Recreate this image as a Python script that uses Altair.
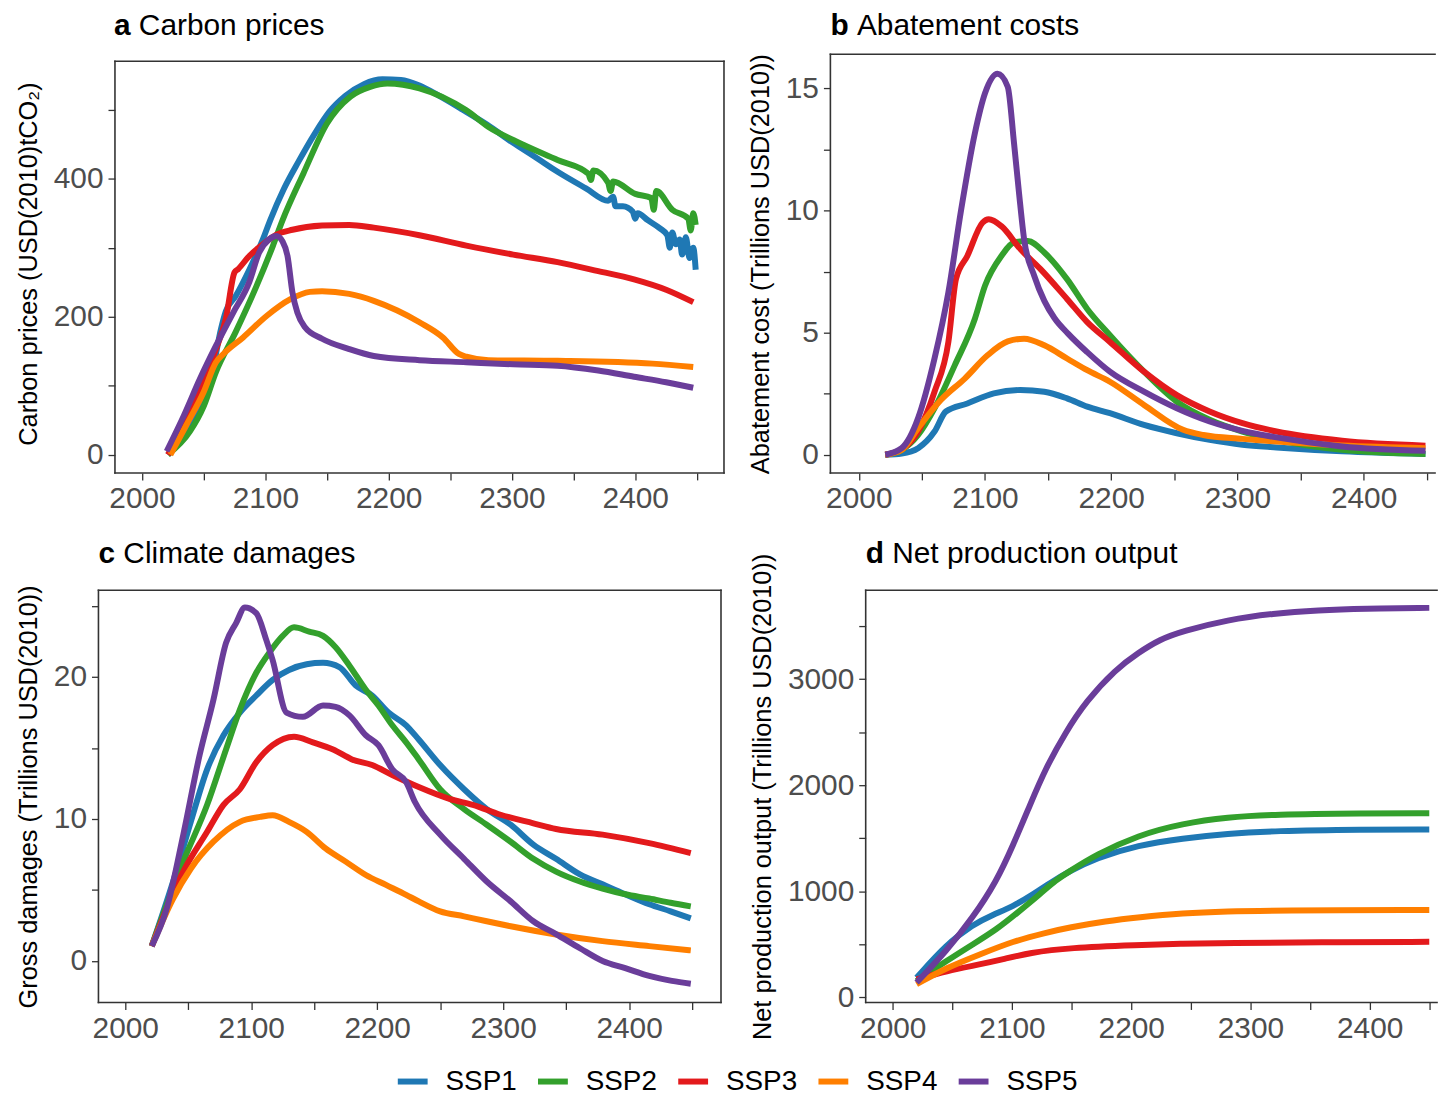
import altair as alt
import pandas as pd

FONT = "Liberation Sans"
SERIES = ["SSP1", "SSP2", "SSP3", "SSP4", "SSP5"]
COLORS = ["#1f78b4", "#33a02c", "#e31a1c", "#ff7f00", "#6a3d9a"]
XTICKS = [2000, 2050, 2100, 2150, 2200, 2250, 2300, 2350, 2400, 2450]

# ---------------- panel a: carbon prices ----------------
a_ssp1_year = [2021, 2033, 2047, 2057, 2064, 2068, 2076, 2087, 2098, 2104, 2115, 2127, 2140, 2152, 2165, 2180, 2195, 2210, 2225, 2240,
               2260, 2280, 2300, 2320, 2337, 2360, 2378, 2382, 2384, 2390, 2398, 2400, 2402, 2410, 2420, 2426, 2428, 2430, 2433, 2436,
               2438, 2441, 2444, 2447, 2449]
a_ssp1 = [0, 29, 72, 120, 182, 208, 230, 268, 312, 340, 385, 425, 465, 497, 520, 537, 544, 543, 535, 521,
          500, 478, 453, 430, 410, 386, 368, 374, 360, 360, 352, 342, 350, 340, 328, 318, 300, 322, 305, 312,
          290, 315, 285, 300, 268]
a_ssp2_year = [2021, 2039, 2050, 2060, 2076, 2093, 2106, 2114, 2131, 2150, 2169, 2185, 2199, 2225, 2263, 2281, 2301, 2337, 2362, 2364,
               2366, 2378, 2380, 2382, 2400, 2413, 2415, 2417, 2430, 2443, 2445, 2447, 2449]
a_ssp2 = [0, 34, 70, 120, 178, 245, 302, 340, 408, 480, 519, 533, 538, 531, 499, 475, 456, 427, 407, 398,
          412, 394, 382, 396, 378, 372, 355, 382, 355, 342, 325, 350, 333]
a_ssp3_year = [2021, 2035, 2048, 2060, 2068, 2075, 2078, 2087, 2098, 2109, 2122, 2146, 2168, 2188, 2225, 2263, 2301, 2337, 2370, 2399,
               2425, 2447]
a_ssp3 = [0, 45, 100, 153, 197, 264, 269, 288, 305, 319, 326, 332, 333, 329, 318, 303, 290, 279, 266, 254, 239, 221]
a_ssp4_year = [2023, 2036, 2050, 2060, 2066, 2082, 2101, 2120, 2136, 2146, 2168, 2188, 2207, 2225, 2244, 2257, 2263, 2281, 2337, 2414,
               2447]
a_ssp4 = [0, 43, 91, 134, 146, 170, 201, 225, 236, 237, 233, 223, 209, 192, 170, 146, 142, 137, 136, 132, 127]
a_ssp5_year = [2020, 2034, 2047, 2060, 2074, 2087, 2095, 2103, 2109, 2114, 2118, 2122, 2126, 2132, 2146, 2168, 2188, 2225, 2263, 2301,
               2337, 2370, 2399, 2425, 2447]
a_ssp5 = [5, 57, 110, 158, 206, 250, 293, 312, 317, 309, 288, 235, 206, 185, 168, 153, 143, 137, 134, 131, 129, 122, 113, 105, 97]

# ---------------- panel b: abatement costs ----------------
b_ssp1_year = [2021, 2034, 2047, 2060, 2069, 2086, 2107, 2128, 2147, 2165, 2181, 2199, 2226, 2252, 2278, 2304, 2331, 2383, 2449]
b_ssp1 = [0, 0.05, 0.27, 0.95, 1.77, 2.1, 2.51, 2.65, 2.58, 2.31, 1.97, 1.70, 1.22, 0.88, 0.61, 0.41, 0.30, 0.14, 0.03]
b_ssp2_year = [2021, 2034, 2047, 2060, 2076, 2092, 2100, 2113, 2123, 2134, 2147, 2165, 2181, 2199, 2226, 2252, 2278, 2304, 2331, 2383,
               2449]
b_ssp2 = [0, 0.2, 0.81, 1.9, 3.66, 5.57, 6.92, 8.14, 8.69, 8.75, 8.28, 7.19, 5.97, 4.89, 3.40, 2.17, 1.43, 0.95, 0.61, 0.20, 0.03]
b_ssp3_year = [2021, 2035, 2047, 2060, 2071, 2077, 2086, 2098, 2103, 2113, 2128, 2144, 2165, 2181, 2199, 2226, 2252, 2278, 2304, 2331,
               2383, 2449]
b_ssp3 = [0, 0.25, 0.95, 2.58, 4.62, 7.19, 8.14, 9.5, 9.64, 9.36, 8.42, 7.6, 6.38, 5.43, 4.62, 3.40, 2.44, 1.77, 1.29, 0.95, 0.57, 0.37]
b_ssp4_year = [2021, 2034, 2047, 2065, 2084, 2102, 2118, 2131, 2147, 2165, 2181, 2199, 2226, 2257, 2273, 2304, 2331, 2383, 2449]
b_ssp4 = [0, 0.2, 1.09, 2.24, 3.12, 4.07, 4.64, 4.75, 4.48, 3.94, 3.46, 2.99, 2.04, 1.02, 0.81, 0.65, 0.54, 0.38, 0.27]
b_ssp5_year = [2021, 2034, 2047, 2060, 2071, 2081, 2092, 2100, 2110, 2118, 2123, 2127, 2131, 2139, 2147, 2155, 2166, 2181, 2199, 2226,
               2252, 2278, 2304, 2331, 2383, 2449]
b_ssp5 = [0, 0.27, 1.5, 3.94, 6.65, 10.0, 13.17, 14.8, 15.6, 15.07, 12.76, 10.7, 8.82, 7.33, 6.3, 5.6, 4.95, 4.2, 3.40, 2.58,
          1.90, 1.36, 0.98, 0.71, 0.34, 0.16]

# ---------------- panel c: climate damages ----------------
c_ssp1_year = [2021, 2038, 2052, 2065, 2078, 2091, 2104, 2117, 2130, 2144, 2157, 2170, 2183, 2196, 2209, 2223, 2233, 2250, 2269, 2287,
               2306, 2324, 2342, 2361, 2379, 2397, 2416, 2433, 2449]
c_ssp1 = [1.05, 5.6, 9.8, 13.5, 15.9, 17.5, 18.7, 19.8, 20.5, 20.9, 21.0, 20.7, 19.4, 18.7, 17.5, 16.6, 15.6, 13.8, 12.1, 10.7,
          9.6, 8.2, 7.2, 6.1, 5.4, 4.7, 4.0, 3.5, 3.0]
c_ssp2_year = [2021, 2046, 2065, 2080, 2091, 2104, 2115, 2125, 2134, 2146, 2157, 2167, 2178, 2191, 2201, 2212, 2223, 2233, 2250, 2269,
               2287, 2306, 2324, 2342, 2361, 2379, 2397, 2416, 2433, 2449]
c_ssp2 = [1.05, 7.0, 11.0, 14.9, 17.7, 20.3, 21.8, 22.9, 23.5, 23.2, 22.9, 22.1, 20.8, 19.1, 18.0, 16.6, 15.4, 14.2, 12.1, 10.7,
          9.6, 8.4, 7.2, 6.3, 5.6, 5.1, 4.7, 4.4, 4.1, 3.85]
c_ssp3_year = [2021, 2046, 2065, 2078, 2091, 2104, 2117, 2134, 2149, 2165, 2180, 2196, 2212, 2233, 2258, 2276, 2298, 2324, 2342, 2379,
               2416, 2449]
c_ssp3 = [1.05, 6.3, 9.1, 11.0, 12.1, 14.0, 15.2, 15.8, 15.4, 14.9, 14.2, 13.8, 13.1, 12.25, 11.4, 11.0, 10.3, 9.7, 9.3, 8.9, 8.3, 7.6]
c_ssp4_year = [2021, 2038, 2052, 2070, 2091, 2107, 2117, 2130, 2144, 2159, 2175, 2191, 2207, 2223, 2233, 2250, 2269, 2287, 2306, 2342,
               2379, 2416, 2449]
c_ssp4 = [1.05, 4.4, 6.5, 8.4, 9.8, 10.15, 10.27, 9.8, 9.1, 7.93, 7.0, 6.06, 5.36, 4.66, 4.2, 3.5, 3.15, 2.8, 2.45, 1.87, 1.4, 1.05, 0.75]
c_ssp5_year = [2021, 2033, 2046, 2059, 2070, 2080, 2088, 2095, 2104, 2112, 2117, 2128, 2141, 2157, 2167, 2178, 2191, 2201, 2212, 2223,
               2230, 2250, 2269, 2287, 2306, 2324, 2342, 2361, 2379, 2397, 2416, 2434, 2449]
c_ssp5 = [1.05, 3.73, 8.87, 14.5, 18.4, 22.4, 23.8, 24.9, 24.5, 22.6, 21.2, 17.5, 17.2, 18.0, 17.9, 17.3, 15.9, 15.2, 13.5, 12.6,
          11.2, 8.9, 7.2, 5.6, 4.2, 2.8, 1.9, 0.9, 0.0, -0.5, -1.05, -1.4, -1.6]

# ---------------- panel d: net production output ----------------
d_ssp1_year = [2020, 2045, 2067, 2084, 2101, 2117, 2134, 2148, 2170, 2206, 2243, 2281, 2319, 2395, 2450]
d_ssp1 = [187, 500, 687, 781, 859, 969, 1094, 1187, 1312, 1437, 1500, 1545, 1570, 1583, 1584]
d_ssp2_year = [2020, 2045, 2067, 2087, 2106, 2123, 2137, 2148, 2170, 2206, 2243, 2281, 2319, 2395, 2450]
d_ssp2 = [156, 344, 500, 640, 812, 969, 1109, 1187, 1344, 1531, 1640, 1700, 1725, 1735, 1736]
d_ssp3_year = [2020, 2045, 2073, 2092, 2115, 2148, 2206, 2243, 2281, 2357, 2450]
d_ssp3 = [172, 250, 312, 359, 422, 469, 494, 508, 515, 520, 525]
d_ssp4_year = [2020, 2045, 2073, 2101, 2128, 2148, 2179, 2206, 2243, 2281, 2319, 2450]
d_ssp4 = [125, 281, 406, 531, 610, 660, 720, 756, 795, 812, 820, 825]
d_ssp5_year = [2020, 2045, 2067, 2087, 2101, 2115, 2128, 2145, 2162, 2187, 2206, 2224, 2243, 2281, 2319, 2357, 2395, 2450]
d_ssp5 = [141, 438, 750, 1094, 1437, 1812, 2156, 2500, 2790, 3094, 3250, 3375, 3453, 3560, 3620, 3650, 3664, 3672]


def frame(pairs):
    rows = []
    for name, (yrs, vals) in zip(SERIES, pairs):
        for x, v in zip(yrs, vals):
            rows.append({"year": x, "value": v, "series": name})
    return pd.DataFrame(rows)


LEGEND = alt.Legend(
    orient="none", legendX=298, legendY=1015, direction="horizontal", columns=5,
    symbolType="stroke", symbolSize=900, symbolStrokeWidth=6,
    labelFont=FONT, labelFontSize=28, labelColor="black", labelOffset=15,
    columnPadding=9, padding=0, title=None,
)

BORDER = "#333333"
TFS = 30
LW = 6
BOLD_ADV = {"a": 0.556, "b": 0.611, "c": 0.556, "d": 0.611}


def panel(df, letter, name, ytitle, xdom, ydom, yticks, ymod, w, h, box, sides, title_x, title_base,
          yoffset=0.0, interp="monotone"):
    enc_x = alt.X(
        "year:Q", title=None,
        scale=alt.Scale(domain=xdom, nice=False, zero=False),
        axis=alt.Axis(values=XTICKS, format="d",
                      labelExpr="datum.value % 100 === 0 ? datum.label : ''"),
    )
    enc_y = alt.Y(
        "value:Q", title=ytitle,
        scale=alt.Scale(domain=ydom, nice=False, zero=False),
        axis=alt.Axis(values=yticks, format="d", offset=yoffset,
                      labelExpr=f"datum.value % {ymod} === 0 ? datum.label : ''"),
    )
    lines = alt.Chart(df).mark_line(strokeWidth=LW, interpolate=interp).encode(
        x=enc_x, y=enc_y,
        color=alt.Color("series:N", scale=alt.Scale(domain=SERIES, range=COLORS), legend=LEGEND),
    )
    one = pd.DataFrame({"letter": [letter], "name": [name]})
    t1 = alt.Chart(one).mark_text(font=FONT, fontSize=TFS, fontWeight="bold", align="left",
                                  baseline="alphabetic", color="black").encode(
        text="letter:N", x=alt.value(title_x), y=alt.value(title_base))
    t2 = alt.Chart(one).mark_text(font=FONT, fontSize=TFS, align="left",
                                  baseline="alphabetic", color="black").encode(
        text="name:N", x=alt.value(title_x + (BOLD_ADV[letter] + 0.278) * TFS), y=alt.value(title_base))
    x0, x1, y0, y1 = box
    rules = []
    rule = alt.Chart(one).mark_rule(color=BORDER, strokeWidth=1.6, strokeCap="square")
    if "top" in sides:
        rules.append(rule.encode(x=alt.value(x0), x2=alt.value(x1), y=alt.value(y0)))
    if "bottom" in sides:
        rules.append(rule.encode(x=alt.value(x0), x2=alt.value(x1), y=alt.value(y1)))
    if "left" in sides:
        rules.append(rule.encode(x=alt.value(x0), y=alt.value(y0), y2=alt.value(y1)))
    if "right" in sides:
        rules.append(rule.encode(x=alt.value(x1), y=alt.value(y0), y2=alt.value(y1)))
    return alt.layer(lines, *rules, t1, t2).properties(width=w, height=h)


ALL = ["top", "bottom", "left", "right"]
OPEN = ["top", "bottom", "left"]

pa = panel(frame([(a_ssp1_year, a_ssp1), (a_ssp2_year, a_ssp2), (a_ssp3_year, a_ssp3),
                  (a_ssp4_year, a_ssp4), (a_ssp5_year, a_ssp5)]),
           "a", "Carbon prices", "Carbon prices (USD(2010)tCO\u2082)",
           [1964.68, 2471.94], [-26.4, 580.3], [0, 100, 200, 300, 400, 500], 200,
           629, 421, (16.6, 629, 7, 421), ALL, 15.6, -19.5, yoffset=-16.6)
pb = panel(frame([(b_ssp1_year, b_ssp1), (b_ssp2_year, b_ssp2), (b_ssp3_year, b_ssp3),
                  (b_ssp4_year, b_ssp4), (b_ssp5_year, b_ssp5)]),
           "b", "Abatement costs", "Abatement cost (Trillions USD(2010))",
           [1977.5, 2456.6], [-0.745, 16.40], [0, 2.5, 5, 7.5, 10, 12.5, 15], 5,
           608, 421, (0, 608, 0, 421), OPEN, 0, -19.5)
pc = panel(frame([(c_ssp1_year, c_ssp1), (c_ssp2_year, c_ssp2), (c_ssp3_year, c_ssp3),
                  (c_ssp4_year, c_ssp4), (c_ssp5_year, c_ssp5)]),
           "c", "Climate damages", "Gross damages (Trillions USD(2010))",
           [1978.7, 2473.0], [-2.92, 26.11], [0, 5, 10, 15, 20, 25], 10,
           626, 414.5, (0, 626, 0, 414.5), ALL, 0, -27)
pdd = panel(frame([(d_ssp1_year, d_ssp1), (d_ssp2_year, d_ssp2), (d_ssp3_year, d_ssp3),
                   (d_ssp4_year, d_ssp4), (d_ssp5_year, d_ssp5)]),
            "d", "Net production output", "Net production output (Trillions USD(2010))",
            [1977.3, 2456.5], [-46.9, 3838], [0, 500, 1000, 1500, 2000, 2500, 3000, 3500], 1000,
            574.5, 414.5, (0, 574.5, 0, 414.5), OPEN, 0, -27, interp="basis")

row1 = alt.hconcat(pa, pb, spacing=22)
row2 = alt.hconcat(pc, pdd, spacing=26.5)

chart = alt.vconcat(row1, row2, spacing=24).properties(
    padding={"left": 16, "top": 7.5, "right": 0, "bottom": 0},
    background="white",
).configure_view(
    stroke="transparent"
).configure_axis(
    labelFont=FONT, titleFont=FONT, labelFontSize=30, titleFontSize=25.5,
    labelColor="#4d4d4d", titleColor="black", titleFontWeight="normal",
    tickColor="#333333", tickWidth=1.3, tickSize=7, domain=False, grid=False,
).configure_axisX(
    labelPadding=4
).configure_axisY(
    labelPadding=5, titlePadding=12
)

chart.save("out.html", embed_options={"renderer": "svg", "actions": False})
